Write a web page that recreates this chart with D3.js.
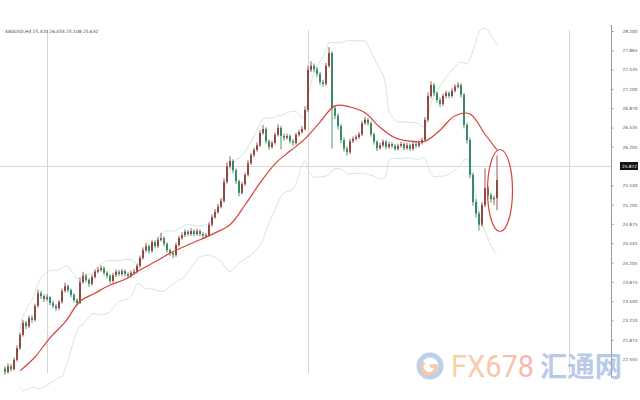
<!DOCTYPE html>
<html><head><meta charset="utf-8">
<script src="https://cdn.jsdelivr.net/npm/d3@7"></script>
<style>body{margin:0;background:#fff}svg{display:block}</style>
</head><body><svg id="c" width="640" height="400"></svg>
<script>
const symbolLabel = "XAGUSD,H4 25.320 26.054 25.108 25.632";
const firstOpen = 22.38;
const closes = [22.32,22.42,22.37,22.53,22.73,22.96,23.17,23.11,23.25,23.22,
23.46,23.68,23.63,23.58,23.61,23.51,23.46,23.42,23.53,23.72,
23.80,23.73,23.65,23.56,23.51,23.87,23.98,23.91,23.84,23.96,
24.05,24.08,24.11,24.03,23.98,23.89,23.99,24.05,24.01,24.06,
24.01,23.98,24.03,24.05,24.15,24.29,24.42,24.49,24.41,24.56,
24.49,24.60,24.63,24.53,24.42,24.37,24.34,24.51,24.63,24.68,
24.74,24.70,24.75,24.70,24.75,24.70,24.67,24.68,24.86,24.99,
25.08,25.17,25.27,25.60,25.87,25.96,25.80,25.61,25.41,25.56,
25.72,25.92,26.06,26.15,26.23,26.44,26.51,26.30,26.20,26.27,
26.41,26.53,26.39,26.36,26.39,26.30,26.27,26.41,26.46,26.51,
26.84,27.53,27.60,27.54,27.46,27.32,27.29,27.60,27.82,26.87,
26.74,26.56,26.32,26.17,26.11,26.30,26.34,26.37,26.42,26.61,
26.67,26.61,26.42,26.29,26.18,26.23,26.29,26.20,26.25,26.22,
26.17,26.22,26.25,26.18,26.23,26.17,26.25,26.22,26.27,26.32,
26.67,27.08,27.27,27.13,27.01,26.94,27.08,27.13,27.08,27.17,
27.24,27.27,27.10,26.58,26.32,25.72,25.25,25.05,24.86,25.20,
25.49,25.37,25.30,25.32,25.632];
const highs = [22.42,22.47,22.46,22.57,22.78,23.00,23.22,23.20,23.29,23.30,
23.50,23.74,23.72,23.66,23.66,23.63,23.55,23.49,23.56,23.76,
23.86,23.83,23.76,23.68,23.59,23.95,24.05,24.01,23.94,24.00,
24.09,24.13,24.16,24.14,24.06,24.01,24.03,24.09,24.08,24.10,
24.09,24.04,24.07,24.10,24.19,24.33,24.47,24.55,24.52,24.60,
24.59,24.65,24.72,24.66,24.56,24.45,24.40,24.55,24.67,24.73,
24.78,24.77,24.80,24.78,24.79,24.78,24.73,24.72,24.90,25.04,
25.13,25.22,25.32,25.66,25.94,26.04,25.99,25.83,25.64,25.60,
25.76,25.97,26.10,26.19,26.28,26.49,26.58,26.54,26.33,26.31,
26.45,26.59,26.56,26.43,26.43,26.42,26.34,26.45,26.50,26.56,
26.90,27.60,27.68,27.64,27.58,27.49,27.36,27.65,27.92,27.85,
26.92,26.78,26.60,26.36,26.21,26.34,26.38,26.41,26.46,26.65,
26.72,26.70,26.64,26.45,26.32,26.27,26.33,26.32,26.29,26.28,
26.25,26.26,26.29,26.28,26.27,26.26,26.29,26.28,26.31,26.36,
26.72,27.14,27.33,27.30,27.16,27.05,27.12,27.17,27.16,27.21,
27.28,27.32,27.30,27.13,26.62,26.36,25.76,25.30,25.09,25.25,
25.83,25.53,25.41,25.36,26.054];
const lows = [22.27,22.29,22.33,22.35,22.50,22.70,22.93,23.06,23.08,23.17,
23.19,23.43,23.58,23.53,23.55,23.47,23.42,23.37,23.39,23.50,
23.69,23.69,23.61,23.52,23.46,23.49,23.84,23.87,23.79,23.81,
23.93,24.02,24.05,23.99,23.94,23.85,23.86,23.96,23.97,23.98,
23.97,23.94,23.95,24.00,24.02,24.12,24.26,24.39,24.36,24.38,
24.45,24.46,24.57,24.49,24.38,24.32,24.29,24.31,24.48,24.60,
24.65,24.66,24.67,24.66,24.67,24.66,24.62,24.63,24.65,24.83,
24.96,25.05,25.14,25.24,25.57,25.83,25.75,25.56,25.35,25.38,
25.53,25.69,25.89,26.03,26.12,26.20,26.41,26.26,26.15,26.17,
26.24,26.38,26.16,26.31,26.33,26.26,26.22,26.24,26.38,26.43,
26.48,26.80,27.49,27.49,27.41,27.27,27.24,27.26,27.57,26.17,
26.68,26.50,26.27,26.12,26.05,26.08,26.27,26.31,26.34,26.39,
26.58,26.57,26.38,26.24,26.13,26.15,26.20,26.16,26.17,26.18,
26.13,26.14,26.19,26.14,26.15,26.13,26.14,26.18,26.19,26.24,
26.29,26.63,27.04,27.08,26.96,26.89,26.91,27.04,27.04,27.05,
27.14,27.21,27.05,26.52,26.26,25.66,25.19,24.98,24.76,24.83,
25.16,25.31,25.24,25.20,25.108];
const maIndex = [5,10,15,20,25,30,35,40,45,50,55,60,65,70,75,80,85,90,95,100,105,110,115,120,125,130,135,140,145,150,155,160,164];
const maValues = [22.34,22.58,22.91,23.18,23.54,23.68,23.82,23.92,24.08,24.22,24.37,24.49,24.60,24.72,24.86,25.20,25.58,25.91,26.13,26.34,26.63,26.91,26.89,26.79,26.54,26.36,26.30,26.30,26.49,26.74,26.77,26.42,26.15];
const tickValues = [28.200,27.865,27.535,27.200,26.870,26.535,26.205,25.540,25.205,24.875,24.545,24.205,23.875,23.540,23.210,22.875,22.545];
const currentPrice = 25.872;
const separatorIdx = [14, 101, 188];

const svg = d3.select("#c");
const W = 640, H = 400;
const axisX = 611;
const x = d3.scaleLinear().domain([0, closes.length - 1]).range([5, 497]);
const y = d3.scaleLinear().domain([22.545, 28.200]).range([359, 31]);

svg.append("rect").attr("width", W).attr("height", H).attr("fill", "#fff");

// separators
svg.append("g").selectAll("line").data(separatorIdx).join("line")
  .attr("x1", d => Math.round(x(d)) + 0.5).attr("x2", d => Math.round(x(d)) + 0.5)
  .attr("y1", 30).attr("y2", 373).attr("stroke", "#d4d4d4").attr("stroke-width", 1);

// current price line
svg.append("line").attr("x1", 0).attr("x2", axisX)
  .attr("y1", Math.round(y(currentPrice)) + 0.5).attr("y2", Math.round(y(currentPrice)) + 0.5)
  .attr("stroke", "#d8d8d8").attr("stroke-width", 1);

// Bollinger bands (20, 2) from closes
const N = 20;
const bands = [];
closes.forEach((c, i) => {
  const s = closes.slice(Math.max(0, i - N + 1), i + 1);
  if (s.length < 6) return;
  const m = d3.mean(s), sd = d3.deviation(s) || 0;
  bands.push({i, up: m + 2 * sd, lo: m - 2 * sd, mid: m});
});
const bandColor = "#cfe8de";
["up", "lo"].forEach(k => {
  svg.append("path").datum(bands)
    .attr("d", d3.line().x(d => x(d.i)).y(d => y(d[k])).curve(d3.curveMonotoneX))
    .attr("fill", "none").attr("stroke", bandColor).attr("stroke-width", 1);
});
svg.append("path").datum(bands)
  .attr("d", d3.line().x(d => x(d.i)).y(d => y(d.mid)).curve(d3.curveMonotoneX))
  .attr("fill", "none").attr("stroke", "#e6f1ec").attr("stroke-width", 0.8);

// candles
const candles = closes.map((c, i) => ({i, o: i === 0 ? firstOpen : closes[i - 1], c, h: highs[i], l: lows[i]}));
const upCol = "#8f4a44", dnCol = "#3a8a63";
const g = svg.append("g");
g.selectAll(".wick").data(candles).join("rect")
  .attr("x", d => x(d.i) - 0.45).attr("width", 0.9)
  .attr("y", d => y(d.h)).attr("height", d => Math.max(0.5, y(d.l) - y(d.h)))
  .attr("fill", d => d.c >= d.o ? upCol : dnCol);
g.selectAll(".body").data(candles).join("rect")
  .attr("x", d => x(d.i) - 1).attr("width", 2)
  .attr("y", d => y(Math.max(d.o, d.c)))
  .attr("height", d => Math.max(0.8, Math.abs(y(d.o) - y(d.c))))
  .attr("fill", d => d.c >= d.o ? upCol : dnCol);

// red moving average
const maData = maIndex.map((idx, k) => ({i: idx, v: maValues[k]}));
svg.append("path").datum(maData)
  .attr("d", d3.line().x(d => x(d.i)).y(d => y(d.v)).curve(d3.curveCatmullRom))
  .attr("fill", "none").attr("stroke", "#d7433b").attr("stroke-width", 1.2);

// annotation ellipse
const lastI = closes.length - 1;
svg.append("ellipse")
  .attr("cx", x(lastI) + 3).attr("cy", y(25.45))
  .attr("rx", 12.5).attr("ry", 41)
  .attr("fill", "none").attr("stroke", "#d7433b").attr("stroke-width", 1.2);

// right axis
svg.append("line").attr("x1", axisX + 0.5).attr("x2", axisX + 0.5).attr("y1", 25).attr("y2", 378)
  .attr("stroke", "#9a9a9a").attr("stroke-width", 1);
const axis = d3.axisRight(y).tickValues(tickValues).tickSize(2).tickPadding(9)
  .tickFormat(d => d.toFixed(3));
const ag = svg.append("g").attr("transform", `translate(${axisX + 0.5},0)`).call(axis);
ag.select(".domain").remove();
ag.selectAll("line").attr("stroke", "#9a9a9a");
ag.selectAll("text").attr("font-size", 4.3).attr("font-family", "DejaVu Sans, sans-serif").attr("fill", "#555");

// highlighted current price label
const cy = y(currentPrice);
svg.append("rect").attr("x", axisX + 9).attr("y", cy - 4).attr("width", 18).attr("height", 8).attr("fill", "#111");
svg.append("text").attr("x", axisX + 11).attr("y", cy + 1.6).text(currentPrice.toFixed(3))
  .attr("font-size", 4.3).attr("font-family", "DejaVu Sans, sans-serif").attr("fill", "#fff");

// header
svg.append("text").attr("x", 5).attr("y", 32.5).text(symbolLabel)
  .attr("font-size", 4.4).attr("font-family", "DejaVu Sans, sans-serif").attr("fill", "#444");

// watermark
const wm = svg.append("g").attr("opacity", 0.7);
const defs = svg.append("defs");
const gr = defs.append("linearGradient").attr("id", "og").attr("x1", "0").attr("x2", "1");
gr.append("stop").attr("offset", "0").attr("stop-color", "#f8c27e");
gr.append("stop").attr("offset", "1").attr("stop-color", "#f29a8e");
wm.append("circle").attr("cx", 430).attr("cy", 366).attr("r", 11).attr("fill", "none")
  .attr("stroke", "#9fbde3").attr("stroke-width", 5);
wm.append("path").attr("d", "M424,362 A7,7 0 1 0 436,366 L430,366")
  .attr("fill", "none").attr("stroke", "#f6b27a").attr("stroke-width", 3.5);
wm.append("text").attr("x", 451).attr("y", 377).text("FX678")
  .attr("font-size", 31).attr("font-family", "Roboto, sans-serif").attr("fill", "url(#og)")
  .attr("textLength", 83).attr("lengthAdjust", "spacingAndGlyphs");
wm.append("text").attr("x", 540).attr("y", 377).text("汇通网")
  .attr("font-size", 28).attr("font-family", "Noto Sans CJK SC, sans-serif").attr("font-weight", 700).attr("fill", "#9bb5df")
  .attr("textLength", 82).attr("lengthAdjust", "spacingAndGlyphs");
</script></body></html>
